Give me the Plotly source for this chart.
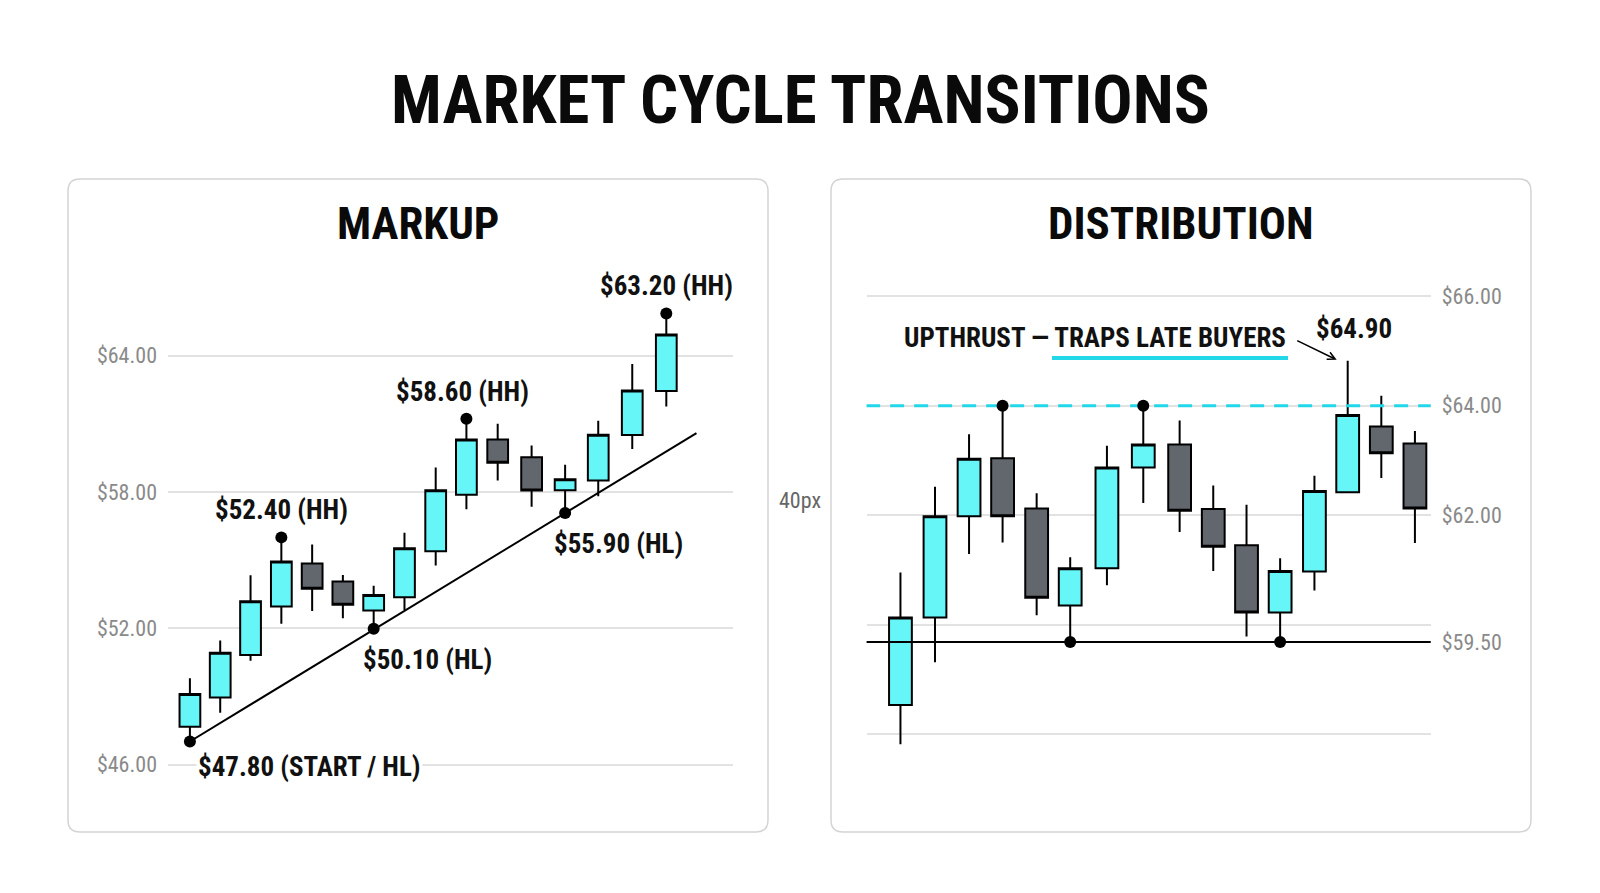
import plotly.graph_objects as go

# ---------------- data ----------------
# MARKUP panel (16 candles; x = session position)
mk_x = [0, 0.954, 1.909, 2.879, 3.849, 4.816, 5.786, 6.756, 7.739, 8.706, 9.691, 10.759, 11.814, 12.857, 13.928, 15.0]
mk_open = [47.67, 48.96, 50.83, 52.96, 54.85, 54.06, 52.78, 53.37, 55.39, 57.87, 60.31, 59.52, 58.07, 58.50, 60.50, 62.44]
mk_close = [49.11, 50.93, 53.19, 54.94, 53.74, 53.04, 53.46, 55.52, 58.07, 60.31, 59.28, 58.06, 58.56, 60.52, 62.46, 64.93]
mk_high = [49.80, 51.46, 54.33, 56.00, 55.69, 54.35, 53.87, 56.20, 59.07, 61.22, 61.00, 60.04, 59.20, 61.13, 63.63, 65.85]
mk_low = [47.02, 48.28, 50.57, 52.20, 52.76, 52.44, 51.98, 52.81, 54.76, 57.24, 58.50, 57.35, 57.07, 57.81, 59.89, 61.76]
mk_hh_idx = [3, 9, 15]
mk_hh_text = ["$52.40 (HH)", "$58.60 (HH)", "$63.20 (HH)"]
mk_hl_idx = [0, 6, 12]
mk_hl_text = ["$47.80 (START / HL)", "$50.10 (HL)", "$55.90 (HL)"]
mk_trend_end = 15.95
mk_ticks = [46, 52, 58, 64]
mk_ticktext = ["$46.00", "$52.00", "$58.00", "$64.00"]

# DISTRIBUTION panel (16 candles)
ds_x = [0, 1.007, 2.0, 2.978, 3.971, 4.949, 6.02, 7.08, 8.14, 9.12, 10.09, 11.07, 12.07, 13.04, 14.02, 15.0]
ds_open = [58.53, 60.13, 61.98, 63.04, 62.12, 60.35, 61.03, 62.87, 63.29, 62.11, 61.45, 60.22, 60.97, 62.42, 63.62, 63.31]
ds_close = [60.13, 61.98, 63.03, 61.98, 60.49, 61.03, 62.87, 63.29, 62.08, 61.42, 60.22, 60.98, 62.44, 63.83, 63.13, 62.12]
ds_high = [60.95, 62.52, 63.48, 64.00, 62.40, 61.23, 63.27, 64.00, 63.73, 62.54, 62.19, 61.21, 62.72, 64.82, 64.18, 63.54]
ds_low = [57.81, 59.31, 61.29, 61.50, 60.17, 59.68, 60.72, 62.22, 61.69, 60.98, 59.78, 59.68, 60.62, 62.40, 62.68, 61.49]
ds_resistance = 64.00
ds_support = 59.68
ds_top_idx = [3, 7]
ds_bottom_idx = [5, 11]
ds_upthrust_idx = 13
ds_upthrust_text = "$64.90"
ds_ticks = [66, 64, 62, ds_support]
ds_ticktext = ["$66.00", "$64.00", "$62.00", "$59.50"]
ds_minor_grid = [60, 58]

# ---------------- style ----------------
W, H = 1600, 893
CYAN = "#66F6F8"
GRAY = "#62666D"
FONT = "Roboto Condensed, Liberation Sans Narrow, Arial Narrow, Roboto, sans-serif"


def px(x):
    return x / W


def py(y):
    return 1 - y / H


def rounded_rect(x0, y0, x1, y1, r):
    X0, X1 = px(x0), px(x1)
    Y0, Y1 = py(y0), py(y1)
    rx, ry = r / W, r / H
    return (f"M{X0 + rx},{Y0} L{X1 - rx},{Y0} Q{X1},{Y0} {X1},{Y0 - ry} "
            f"L{X1},{Y1 + ry} Q{X1},{Y1} {X1 - rx},{Y1} L{X0 + rx},{Y1} "
            f"Q{X0},{Y1} {X0},{Y1 + ry} L{X0},{Y0 - ry} Q{X0},{Y0} {X0 + rx},{Y0} Z")


fig = go.Figure()

candle_style = dict(
    increasing=dict(fillcolor=CYAN, line=dict(color="black", width=2)),
    decreasing=dict(fillcolor=GRAY, line=dict(color="black", width=2)),
    whiskerwidth=0,
    showlegend=False,
    hoverinfo="skip",
)

# ---- MARKUP ----
fig.add_trace(go.Candlestick(x=mk_x, open=mk_open, high=mk_high, low=mk_low, close=mk_close,
                             xaxis="x", yaxis="y", **candle_style))
a, b = mk_hl_idx[0], mk_hl_idx[2]
slope = (mk_low[b] - mk_low[a]) / (mk_x[b] - mk_x[a])
trend_x = [mk_x[a], mk_trend_end]
trend_y = [mk_low[a] + slope * (t - mk_x[a]) for t in trend_x]
fig.add_trace(go.Scatter(x=trend_x, y=trend_y, mode="lines", line=dict(color="black", width=2),
                         xaxis="x", yaxis="y", showlegend=False, hoverinfo="skip"))
fig.add_trace(go.Scatter(x=[mk_x[i] for i in mk_hh_idx + mk_hl_idx],
                         y=[mk_high[i] for i in mk_hh_idx] + [mk_low[i] for i in mk_hl_idx],
                         mode="markers", marker=dict(color="black", size=12),
                         xaxis="x", yaxis="y", showlegend=False, hoverinfo="skip"))

# ---- DISTRIBUTION ----
fig.add_trace(go.Candlestick(x=ds_x, open=ds_open, high=ds_high, low=ds_low, close=ds_close,
                             xaxis="x2", yaxis="y2", **candle_style))
fig.add_trace(go.Scatter(x=[ds_x[0] - 1, ds_x[-1] + 1], y=[ds_resistance, ds_resistance], mode="lines",
                         line=dict(color="#22D8E8", width=3, dash="14px,10px"),
                         xaxis="x2", yaxis="y2", showlegend=False, hoverinfo="skip"))
fig.add_trace(go.Scatter(x=[ds_x[0] - 1, ds_x[-1] + 1], y=[ds_support, ds_support], mode="lines",
                         line=dict(color="black", width=2),
                         xaxis="x2", yaxis="y2", showlegend=False, hoverinfo="skip"))
fig.add_trace(go.Scatter(x=[ds_x[i] for i in ds_top_idx + ds_bottom_idx],
                         y=[ds_high[i] for i in ds_top_idx] + [ds_low[i] for i in ds_bottom_idx],
                         mode="markers", marker=dict(color="black", size=12),
                         xaxis="x2", yaxis="y2", showlegend=False, hoverinfo="skip"))

# ---------------- annotations ----------------
ann = []
lab_font = dict(family=FONT, size=27, color="#111111")
hh_xshift = [0, -4, 0]
for i, t, s in zip(mk_hh_idx, mk_hh_text, hh_xshift):
    ann.append(dict(x=mk_x[i], y=mk_high[i], xref="x", yref="y", text=f"<b>{t}</b>", showarrow=False,
                    xanchor="center", yanchor="middle", yshift=27, xshift=s, font=lab_font))
for i, t in zip(mk_hl_idx, mk_hl_text):
    first = i == mk_hl_idx[0]
    ann.append(dict(x=mk_x[i], y=mk_low[i], xref="x", yref="y", text=f"<b>{t}</b>", showarrow=False,
                    xanchor="left", yanchor="middle", xshift=6 if first else -13,
                    yshift=-25 if first else -31, font=lab_font,
                    bgcolor="white" if first else None))

# Distribution annotations
ann.append(dict(x=px(1288), y=py(338), xref="paper", yref="paper",
                text="<b>UPTHRUST — TRAPS LATE BUYERS</b>", showarrow=False,
                xanchor="right", yanchor="middle", font=lab_font))
ann.append(dict(x=ds_x[ds_upthrust_idx], y=ds_high[ds_upthrust_idx], xref="x2", yref="y2",
                text=f"<b>{ds_upthrust_text}</b>", showarrow=False, xanchor="center", yanchor="middle",
                xshift=6, yshift=32, font=lab_font))
ann.append(dict(x=ds_x[ds_upthrust_idx], y=ds_high[ds_upthrust_idx], xref="x2", yref="y2", text="",
                showarrow=True, arrowhead=5, arrowsize=1, arrowwidth=1.5, arrowcolor="black",
                ax=-41, ay=-20, xshift=-11, yshift=1, standoff=0))

# titles
ann.append(dict(x=0.5, y=py(100), xref="paper", yref="paper", text="<b>MARKET CYCLE TRANSITIONS</b>",
                showarrow=False, xanchor="center", yanchor="middle",
                font=dict(family=FONT, size=67, color="#0a0a0a")))
ann.append(dict(x=px(418), y=py(223), xref="paper", yref="paper", text="<b>MARKUP</b>",
                showarrow=False, xanchor="center", yanchor="middle",
                font=dict(family=FONT, size=45, color="#0a0a0a")))
ann.append(dict(x=px(1181), y=py(223), xref="paper", yref="paper", text="<b>DISTRIBUTION</b>",
                showarrow=False, xanchor="center", yanchor="middle",
                font=dict(family=FONT, size=45, color="#0a0a0a")))
ann.append(dict(x=px(800), y=py(500), xref="paper", yref="paper", text="40px",
                showarrow=False, xanchor="center", yanchor="middle",
                font=dict(family=FONT, size=22, color="#666666")))

shapes = [
    dict(type="path", xref="paper", yref="paper", path=rounded_rect(68, 179, 768, 832, 12),
         line=dict(color="#d4d4d4", width=1.5), fillcolor="white", layer="below"),
    dict(type="path", xref="paper", yref="paper", path=rounded_rect(831, 179, 1531, 832, 12),
         line=dict(color="#d4d4d4", width=1.5), fillcolor="white", layer="below"),
    dict(type="line", xref="paper", yref="paper", x0=px(1052), x1=px(1288), y0=py(358), y1=py(358),
         line=dict(color="#22D8E8", width=4)),
]

tick_font = dict(family=FONT, size=22, color="#8a8a8a")
fig.update_layout(
    width=W, height=H,
    margin=dict(l=0, r=0, t=0, b=0),
    paper_bgcolor="white", plot_bgcolor="rgba(0,0,0,0)",
    boxgap=0.315, boxgroupgap=0,
    showlegend=False,
    annotations=ann, shapes=shapes,
    xaxis=dict(domain=[px(168), px(733)], range=[-0.69, 17.1], showgrid=False, zeroline=False,
               showticklabels=False, rangeslider=dict(visible=False), fixedrange=True),
    yaxis=dict(domain=[py(789.7), py(264.6)], range=[44.9, 68.0], tickvals=mk_ticks, ticktext=mk_ticktext,
               showgrid=True, gridcolor="#e2e2e2", gridwidth=1.5, zeroline=False, showline=False, ticks="",
               tickfont=tick_font, ticklabelstandoff=10, anchor="x"),
    xaxis2=dict(domain=[px(866.5), px(1430.7)], range=[-0.99, 15.46], showgrid=False, zeroline=False,
                showticklabels=False, rangeslider=dict(visible=False), anchor="y2"),
    yaxis2=dict(domain=[py(761.3), py(279.9)], range=[57.5, 66.3], tickvals=ds_ticks, ticktext=ds_ticktext,
                showgrid=True, gridcolor="#e2e2e2", gridwidth=1.5, zeroline=False, showline=False, ticks="",
                side="right", anchor="x2", tickfont=tick_font, ticklabelstandoff=10,
                minor=dict(tickvals=ds_minor_grid, showgrid=True, gridcolor="#e2e2e2", gridwidth=1.5,
                           ticks="")),
)

fig.write_html("out.html", config=dict(displayModeBar=False),
               post_script="document.body.style.margin='0';document.body.style.overflow='hidden';")
